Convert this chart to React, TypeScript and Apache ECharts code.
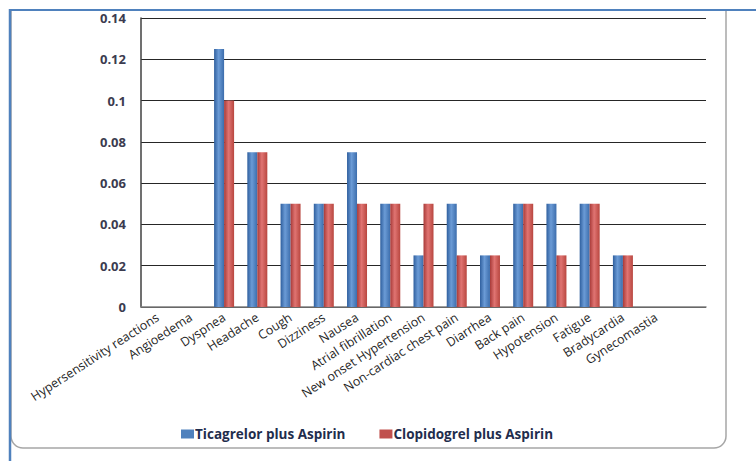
import React, { useEffect, useRef } from "react";
import * as echarts from "echarts";

const categories = [
  "Hypersensitivity reactions",
  "Angioedema",
  "Dyspnea",
  "Headache",
  "Cough",
  "Dizziness",
  "Nausea",
  "Atrial fibrillation",
  "New onset Hypertension",
  "Non-cardiac chest pain",
  "Diarrhea",
  "Back pain",
  "Hypotension",
  "Fatigue",
  "Bradycardia",
  "Gynecomastia",
  "",
];
const ticagrelor = [0, 0, 0.125, 0.075, 0.05, 0.05, 0.075, 0.05, 0.025, 0.05, 0.025, 0.05, 0.05, 0.05, 0.025, 0, null];
const clopidogrel = [0, 0, 0.1, 0.075, 0.05, 0.05, 0.05, 0.05, 0.05, 0.025, 0.025, 0.05, 0.025, 0.05, 0.025, 0, null];
const seriesNames = ["Ticagrelor plus Aspirin", "Clopidogrel plus Aspirin"];

const grad = (a: string, b: string, c: string) =>
  new echarts.graphic.LinearGradient(0, 0, 1, 0, [
    { offset: 0, color: a },
    { offset: 0.45, color: b },
    { offset: 1, color: c },
  ]);

export default function App() {
  const ref = useRef<HTMLDivElement>(null);
  useEffect(() => {
    if (!ref.current) return;
    const chart = echarts.init(ref.current, undefined, { renderer: "svg" });
    chart.setOption({
      animation: false,
      backgroundColor: "#ffffff",
      graphic: [
        {
          type: "rect",
          shape: { x: 11, y: 10, width: 715, height: 438, r: [0, 0, 12, 12] },
          style: { fill: "none", stroke: "#a6a6a6", lineWidth: 1.5 },
          z: 0,
        },
        {
          type: "line",
          shape: { x1: 9, y1: 10, x2: 756, y2: 10 },
          style: { stroke: "#4f81bd", lineWidth: 2 },
          z: 1,
        },
        {
          type: "line",
          shape: { x1: 10, y1: 9, x2: 10, y2: 461 },
          style: { stroke: "#4f81bd", lineWidth: 2.5 },
          z: 1,
        },
      ],
      grid: { left: 141, right: 50, top: 18, bottom: 154, containLabel: false },
      legend: {
        top: 422,
        left: 176,
        itemGap: 34,
        itemWidth: 13,
        itemHeight: 9,
        icon: "rect",
        textStyle: {
          fontFamily: "Open Sans, sans-serif",
          fontWeight: "bold",
          fontSize: 13.5,
          color: "#1f2d4d",
          padding: [0, 0, 0, -4],
        },
        data: [
          { name: seriesNames[0], itemStyle: { color: "#4f81bd" } },
          { name: seriesNames[1], itemStyle: { color: "#c0504d" } },
        ],
      },
      xAxis: {
        type: "category",
        data: categories,
        axisLine: { show: true, lineStyle: { color: "#7f7f7f", width: 1.5 } },
        axisTick: { show: false },
        axisLabel: {
          rotate: 33,
          interval: 0,
          margin: 9,
          fontFamily: "Open Sans, sans-serif",
          fontSize: 12.5,
          color: "#1f1f1f",
        },
      },
      yAxis: {
        type: "value",
        min: 0,
        max: 0.14,
        interval: 0.02,
        axisLine: { show: true, lineStyle: { color: "#404040", width: 1.5 } },
        axisTick: { show: false },
        splitLine: { lineStyle: { color: "#262626", width: 1.2 } },
        axisLabel: {
          margin: 15,
          fontFamily: "Open Sans, sans-serif",
          fontWeight: "bold",
          fontSize: 13,
          color: "#3b3b4f",
          formatter: (v: number) => String(parseFloat(v.toFixed(2))),
        },
      },
      series: [
        {
          name: seriesNames[0],
          type: "bar",
          data: ticagrelor,
          barWidth: 10,
          barGap: "0%",
          itemStyle: { color: grad("#2f5f9e", "#6b9bd6", "#3c6dac") },
        },
        {
          name: seriesNames[1],
          type: "bar",
          data: clopidogrel,
          barWidth: 10,
          itemStyle: { color: grad("#a83a38", "#e07472", "#b8463f") },
        },
      ],
    });
    return () => chart.dispose();
  }, []);
  return (
    <div
      ref={ref}
      style={{ position: "fixed", left: 0, top: 0, width: 756, height: 461 }}
    />
  );
}
